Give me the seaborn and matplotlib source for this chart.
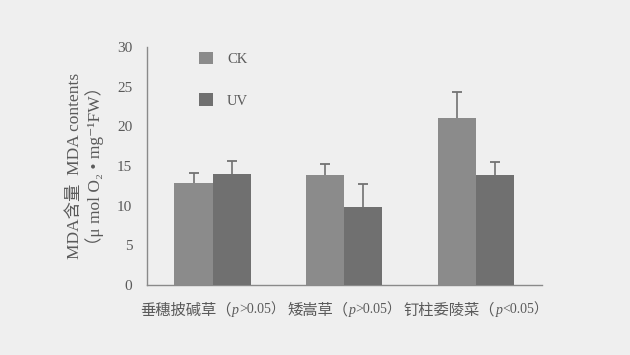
import pandas as pd
import matplotlib
matplotlib.use("Agg")
import matplotlib.pyplot as plt
from matplotlib.offsetbox import TextArea, HPacker, AnnotationBbox
import seaborn as sns
import numpy as np

# values
species = ["垂穗披碱草", "矮嵩草", "钉柱委陵菜"]
p_text = [">0.05", ">0.05", "<0.05"]
treatments = ["CK", "UV"]
ck_mean = [12.9, 13.9, 21.0]
uv_mean = [14.0, 9.8, 13.9]
ck_err = [1.2, 1.4, 3.3]
uv_err = [1.6, 2.9, 1.6]

df = pd.DataFrame({
    "species": species * 2,
    "treatment": ["CK"] * 3 + ["UV"] * 3,
    "mda": ck_mean + uv_mean,
    "err": ck_err + uv_err,
})

sns.set_style("white")
fams = ["Liberation Serif", "Noto Sans CJK SC", "DejaVu Serif"]
plt.rcParams["font.family"] = fams
txt = "#5a5a5a"
plt.rcParams["text.color"] = txt
plt.rcParams["axes.labelcolor"] = txt
plt.rcParams["xtick.color"] = txt
plt.rcParams["ytick.color"] = txt

bg = "#efefef"
fig = plt.figure(figsize=(6.3, 3.55), dpi=100, facecolor=bg)
ax = fig.add_axes([0.233, 0.197, 0.627, 0.671])
ax.set_facecolor(bg)

sns.barplot(data=df, x="species", y="mda", hue="treatment", order=species,
            hue_order=treatments, palette=["#8b8b8b", "#707070"],
            errorbar=None, width=0.58, saturation=1, linewidth=0, ax=ax)

# upward error bars only: stem from bar top, cap at the upper end
for cont, t in zip(ax.containers, treatments):
    sub = df[df["treatment"] == t].set_index("species").loc[species]
    xs = [b.get_x() + b.get_width() / 2 for b in cont]
    ax.errorbar(xs, sub["mda"], yerr=[np.zeros(3), sub["err"]], fmt="none",
                ecolor="#727272", elinewidth=1.2, capsize=0, zorder=1)
    ax.plot(xs, sub["mda"] + sub["err"], linestyle="none", marker="_",
            markersize=7, markeredgewidth=1.3, color="#727272", zorder=1)
for p in ax.patches:
    p.set_zorder(3)

ax.set_ylim(0, 30)
ax.set_xlim(-0.5, 2.5)
ax.set_yticks(range(0, 31, 5))
ax.tick_params(axis="y", direction="inout", length=5, width=0.8, labelsize=11, pad=8)
ax.set_xticks([0.5, 1.5])
ax.set_xticklabels(["", ""])
ax.tick_params(axis="x", direction="in", length=4, width=0.8)

# group labels with italic p
for i, (s, p) in enumerate(zip(species, p_text)):
    parts = [
        TextArea(s + "（", textprops=dict(fontsize=11, color=txt, family=fams)),
        TextArea("p", textprops=dict(fontsize=10, color=txt, style="italic",
                                     family=fams)),
        TextArea(p + "）", textprops=dict(fontsize=10, color=txt, family=fams)),
    ]
    box = HPacker(children=parts, align="baseline", pad=0, sep=0)
    ab = AnnotationBbox(box, (i, -2.2), xycoords="data", box_alignment=(0.5, 1.0),
                        frameon=False, pad=0, annotation_clip=False)
    ax.add_artist(ab)

for side in ["top", "right"]:
    ax.spines[side].set_visible(False)
for side in ["left", "bottom"]:
    ax.spines[side].set_color("#8a8a8a")
    ax.spines[side].set_linewidth(1.0)

ax.set_xlabel("")
ax.set_ylabel("MDA含量  MDA contents\n（μ mol O₂ • mg⁻¹FW）", fontsize=12.5,
              labelpad=9, linespacing=1.15)

leg = ax.legend(loc="upper left", bbox_to_anchor=(0.1, 1.035), frameon=False,
                fontsize=10.5, labelspacing=1.9, handlelength=0.9,
                handleheight=0.9, handletextpad=1.0)

fig.savefig("out.png", dpi=100, facecolor=bg)
